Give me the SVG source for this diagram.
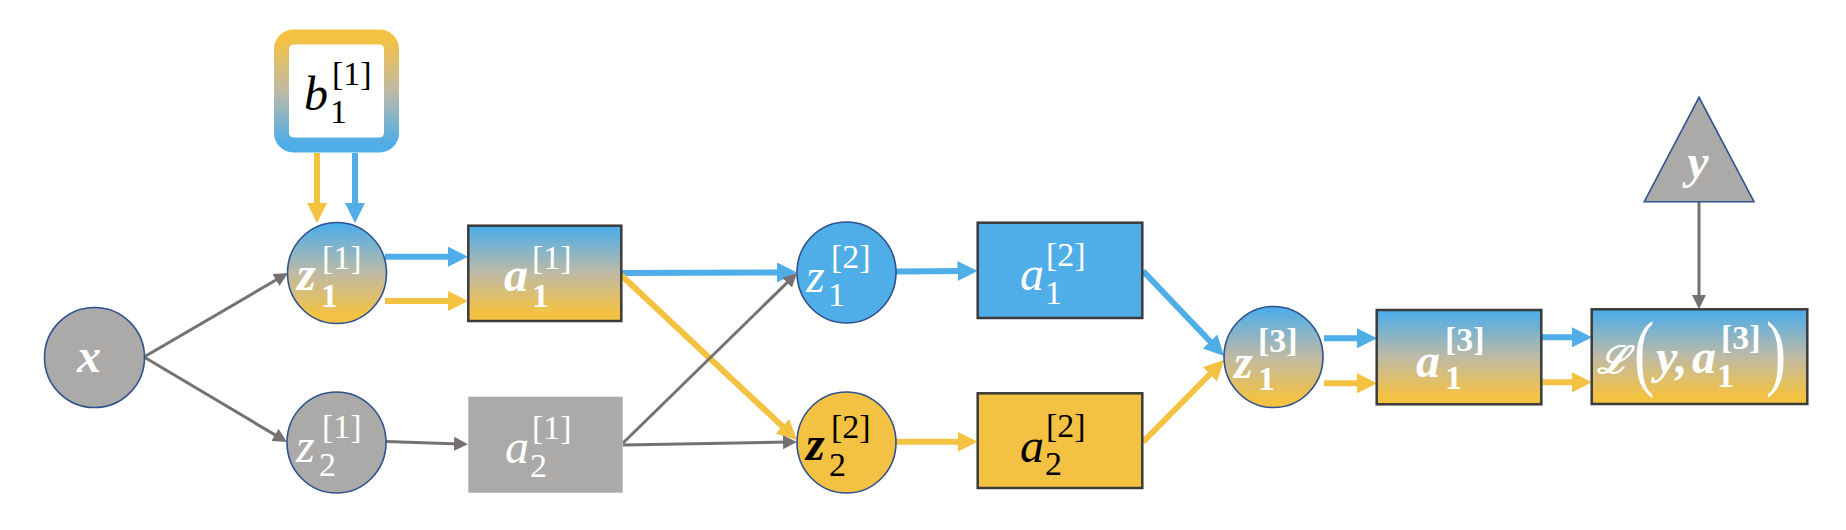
<svg xmlns="http://www.w3.org/2000/svg" width="1846" height="530" viewBox="0 0 1846 530">
<defs>
<linearGradient id="gBY" x1="0" y1="0" x2="0" y2="1">
<stop offset="0.03" stop-color="#4FADE8"/>
<stop offset="0.5" stop-color="#BFBAA5"/>
<stop offset="0.92" stop-color="#F4C242"/>
</linearGradient>
<linearGradient id="gYB" gradientUnits="userSpaceOnUse" x1="0" y1="29" x2="0" y2="153">
<stop offset="0.08" stop-color="#F4C242"/>
<stop offset="0.5" stop-color="#BFBAA5"/>
<stop offset="0.92" stop-color="#4FADE8"/>
</linearGradient>
<marker id="hB" markerUnits="userSpaceOnUse" markerWidth="20" markerHeight="20" refX="8" refY="10" orient="auto" viewBox="0 0 20 20">
<path d="M0,0 L20,10 L0,20 Z" fill="#4FADE8"/>
</marker>
<marker id="hY" markerUnits="userSpaceOnUse" markerWidth="20" markerHeight="20" refX="8" refY="10" orient="auto" viewBox="0 0 20 20">
<path d="M0,0 L20,10 L0,20 Z" fill="#F4C242"/>
</marker>
<marker id="hG" markerUnits="userSpaceOnUse" markerWidth="14" markerHeight="14" refX="6" refY="7" orient="auto" viewBox="0 0 14 14">
<path d="M0,0 L14,7 L0,14 Z" fill="#767171"/>
</marker>
</defs>
<style>
.circ{stroke:#2F528F;stroke-width:1.6}
.box{stroke:#3B3B3B;stroke-width:2.5}
.gray{fill:#ABAAA9}
.blue{fill:#4FADE8}
.yel{fill:#F4C242}
.grad{fill:url(#gBY)}
.cb{stroke:#4FADE8;stroke-width:6;fill:none;marker-end:url(#hB)}
.cy{stroke:#F4C242;stroke-width:6;fill:none;marker-end:url(#hY)}
.cg{stroke:#767171;stroke-width:3;fill:none;marker-end:url(#hG)}
text{font-family:"Liberation Serif","DejaVu Serif",serif}
.m{font-size:48px;font-style:italic}
.s{font-size:34px}
.w{fill:#FFFFFF}
.k{fill:#000000}
.bd{font-weight:bold}
.p{font-size:84px}
</style>

<g id="connectors">
<line class="cy" x1="317" y1="153" x2="317" y2="211"/>
<line class="cb" x1="355" y1="153" x2="355" y2="211"/>
<line class="cg" x1="144" y1="357" x2="281.1" y2="277"/>
<line class="cg" x1="144" y1="357" x2="280.1" y2="437.9"/>
<line class="cb" x1="385" y1="256.7" x2="456" y2="256.7"/>
<line class="cy" x1="385" y1="301" x2="456" y2="301"/>
<line class="cg" x1="386" y1="441.5" x2="460" y2="444"/>
<line class="cb" x1="621" y1="273" x2="785" y2="272.5"/>
<line class="cy" x1="621" y1="275" x2="788.2" y2="431.8"/>
<line class="cg" x1="623" y1="443" x2="791.3" y2="278.6"/>
<line class="cg" x1="623" y1="445" x2="789" y2="442.1"/>
<line class="cb" x1="896" y1="271.5" x2="965.5" y2="271"/>
<line class="cy" x1="896" y1="441.7" x2="965.5" y2="441.7"/>
<line class="cb" x1="1143" y1="271" x2="1215.7" y2="347.3"/>
<line class="cy" x1="1143" y1="442" x2="1215.6" y2="368.5"/>
<line class="cb" x1="1324" y1="338.3" x2="1365" y2="338.3"/>
<line class="cy" x1="1324" y1="383.3" x2="1365" y2="383.3"/>
<line class="cb" x1="1541" y1="337.3" x2="1580" y2="337.3"/>
<line class="cy" x1="1541" y1="382.3" x2="1580" y2="382.3"/>
<line class="cg" x1="1699" y1="202" x2="1699" y2="301"/>
</g>

<g id="node-b1">
<rect x="281.5" y="37" width="110" height="108" rx="12" fill="#FFFFFF" stroke="url(#gYB)" stroke-width="15"/>
<text class="m k" x="304" y="110">b</text>
<text class="s k" x="330" y="123">1</text>
<text class="s k" x="332" y="85">[1]</text>
</g>

<g id="node-x">
<circle class="circ gray" cx="94.5" cy="357.5" r="50"/>
<text class="m w bd" x="89" y="371.5" text-anchor="middle">x</text>
</g>

<g id="node-z11">
<ellipse class="circ grad" cx="337" cy="273" rx="49.5" ry="50.5"/>
<text class="m w bd" x="297" y="290">z</text>
<text class="s w bd" x="321" y="307">1</text>
<text class="s w" x="322" y="269">[1]</text>
</g>

<g id="node-z21">
<ellipse class="circ gray" cx="336.5" cy="442.5" rx="49.5" ry="50.5"/>
<text class="m w" x="296" y="461.5">z</text>
<text class="s w" x="319" y="476">2</text>
<text class="s w" x="322" y="438">[1]</text>
</g>

<g id="node-a11">
<rect class="box grad" x="468.3" y="225.7" width="153" height="95.3"/>
<text class="m w bd" x="504" y="290.5">a</text>
<text class="s w bd" x="532" y="307">1</text>
<text class="s w" x="532" y="269">[1]</text>
</g>

<g id="node-a21">
<rect class="gray" x="468.3" y="396.7" width="154.4" height="96"/>
<text class="m w" x="505" y="463">a</text>
<text class="s w" x="530" y="477">2</text>
<text class="s w" x="532" y="439">[1]</text>
</g>

<g id="node-z12">
<ellipse class="circ blue" cx="846.5" cy="272.5" rx="49.5" ry="50.5"/>
<text class="m w" x="806" y="291.5">z</text>
<text class="s w" x="828" y="306">1</text>
<text class="s w" x="831" y="268">[2]</text>
</g>

<g id="node-z22">
<ellipse class="circ yel" cx="846.5" cy="442.5" rx="49.5" ry="50.5"/>
<text class="m k bd" x="806" y="460">z</text>
<text class="s k" x="829" y="476">2</text>
<text class="s k" x="831" y="438">[2]</text>
</g>

<g id="node-a12">
<rect class="box blue" x="977.7" y="222.7" width="164.6" height="95.3"/>
<text class="m w" x="1020" y="290">a</text>
<text class="s w" x="1045" y="304">1</text>
<text class="s w" x="1046" y="266">[2]</text>
</g>

<g id="node-a22">
<rect class="box yel" x="977.7" y="393.3" width="164.6" height="94.7"/>
<text class="m k" x="1020" y="461.5">a</text>
<text class="s k" x="1045" y="475">2</text>
<text class="s k" x="1046" y="437">[2]</text>
</g>

<g id="node-z13">
<ellipse class="circ grad" cx="1273.5" cy="357" rx="49.5" ry="50.5"/>
<text class="m w bd" x="1234" y="377.5">z</text>
<text class="s w bd" x="1258" y="390">1</text>
<text class="s w bd" x="1258" y="352">[3]</text>
</g>

<g id="node-a13">
<rect class="box grad" x="1376.7" y="310" width="164.6" height="94.3"/>
<text class="m w bd" x="1416" y="376.5">a</text>
<text class="s w bd" x="1445" y="389">1</text>
<text class="s w bd" x="1445" y="351">[3]</text>
</g>

<g id="node-y">
<polygon points="1699,97.3 1644.3,201.7 1754,201.7" fill="#ABAAA9" stroke="#2F528F" stroke-width="1.6"/>
<text class="m w bd" x="1698" y="178" text-anchor="middle">y</text>
</g>

<g id="node-loss">
<rect class="box grad" x="1591.7" y="309.3" width="215.6" height="94.7"/>
<text class="w" x="1597" y="373" font-size="38" font-style="italic" font-weight="bold" font-family="DejaVu Serif, serif">ℒ</text>
<text class="w p" transform="translate(1634,380) scale(0.72,1)">(</text>
<text class="m w bd" x="1656" y="373">y,</text>
<text class="m w bd" x="1692" y="373">a</text>
<text class="s w bd" x="1717" y="387">1</text>
<text class="s w bd" x="1721" y="349">[3]</text>
<text class="w p" transform="translate(1766,380) scale(0.72,1)">)</text>
</g>
</svg>
